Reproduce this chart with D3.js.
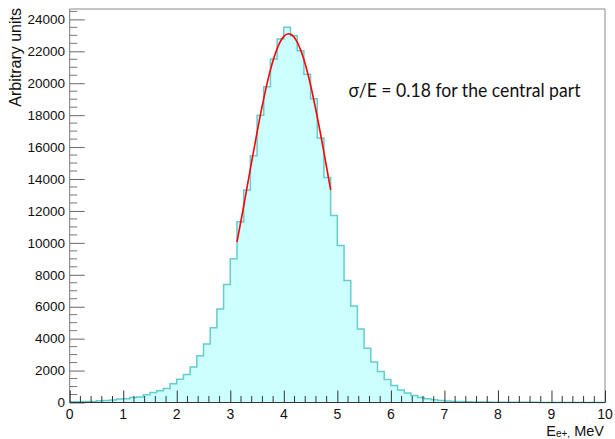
<!DOCTYPE html>
<html>
<head>
<meta charset="utf-8">
<script src="https://cdn.jsdelivr.net/npm/d3@7"></script>
<style>
  html, body { margin: 0; padding: 0; background: #ffffff; }
  svg { display: block; }
</style>
</head>
<body>
<svg id="chart" width="615" height="439"></svg>
<script>
// ---- data ----
const binEdges = [0, 10];          // histogram range (MeV)
const binWidth = 0.125;            // 80 bins
const binValues = [
  40, 50, 60, 70, 110, 130, 160, 220, 240, 320,
  350, 480, 620, 730, 880, 1170, 1460, 1760, 2220, 2930,
  3660, 4680, 5850, 7390, 9010, 11330, 13310, 15460, 17990, 19780,
  21520, 22770, 23500, 22980, 22040, 20560, 19030, 16570, 14100, 11710,
  9830, 7640, 6050, 4610, 3400, 2530, 1940, 1440, 1060, 790,
  590, 440, 310, 230, 170, 125, 90, 70, 55, 45,
  35, 30, 25, 20, 15, 12, 10, 10, 8, 8,
  6, 6, 5, 5, 4, 4, 3, 3, 2, 2
];
// Gaussian fit curve
const fitX = [3.125, 3.25, 3.375, 3.5, 3.625, 3.75, 3.875, 4.0, 4.09, 4.125, 4.25, 4.375, 4.5, 4.625, 4.75, 4.875];
const fitY = [10050, 12295, 14630, 16925, 19040, 20835, 22165, 22933, 23100, 23075, 22578, 21483, 19877, 17886, 15653, 13320];
const xTicks = [0, 1, 2, 3, 4, 5, 6, 7, 8, 9, 10];
const yTicks = [0, 2000, 4000, 6000, 8000, 10000, 12000, 14000, 16000, 18000, 20000, 22000, 24000];
const yMax = 24650;
const annotation = "σ/E = 0.18 for the central part";
const yTitle = "Arbitrary units";

// ---- layout ----
const svg = d3.select("#chart");
const L = 69.7, R = 605, T = 9, B = 402.5;
const x = d3.scaleLinear().domain(binEdges).range([L, R]);
const y = d3.scaleLinear().domain([0, yMax]).range([B, T]);

// histogram step outline
const pts = [[binEdges[0], 0]];
binValues.forEach((v, i) => {
  const x0 = binEdges[0] + i * binWidth, x1 = x0 + binWidth;
  pts.push([x0, v]); pts.push([x1, v]);
});
pts.push([binEdges[1], 0]);
const line = d3.line().x(d => x(d[0])).y(d => y(d[1]));

svg.append("path")
  .attr("d", line(pts) + "Z")
  .attr("fill", "#ccffff")
  .attr("stroke", "none");

svg.append("path")
  .attr("d", line(pts))
  .attr("fill", "none")
  .attr("stroke", "#66cccc")
  .attr("stroke-width", 1.5);

// fit curve
const fitLine = d3.line().x(d => x(d[0])).y(d => y(d[1])).curve(d3.curveMonotoneX);
svg.append("path")
  .attr("d", fitLine(fitX.map((v, i) => [v, fitY[i]])))
  .attr("fill", "none")
  .attr("stroke", "#ff0000")
  .attr("stroke-width", 1.6);

// frame (top & right)
svg.append("line").attr("x1", L).attr("x2", R).attr("y1", T).attr("y2", T)
  .attr("stroke", "#888").attr("stroke-width", 1);
svg.append("line").attr("x1", R).attr("x2", R).attr("y1", T).attr("y2", B)
  .attr("stroke", "#888").attr("stroke-width", 1);

// y axis
const yAxis = d3.axisRight(y)
  .tickValues(yTicks)
  .tickSize(15)
  .tickFormat("");
const ga = svg.append("g").attr("transform", `translate(${L},0)`).call(yAxis);
ga.select(".domain").attr("stroke", "#777").attr("d", `M0,${B}V${T}`);
ga.selectAll(".tick line").attr("stroke", "#666");
const yMinor = d3.range(500, yMax, 500).filter(v => v % 2000 !== 0);
svg.append("g").selectAll("line").data(yMinor).join("line")
  .attr("x1", L).attr("x2", L + 7.5)
  .attr("y1", d => y(d)).attr("y2", d => y(d))
  .attr("stroke", "#777");
svg.append("g").selectAll("text").data(yTicks).join("text")
  .attr("x", 65).attr("y", d => y(d))
  .attr("dy", "0.35em")
  .attr("text-anchor", "end")
  .attr("font-family", "Liberation Sans, Arial, sans-serif")
  .attr("font-size", 13.5)
  .attr("fill", "#111")
  .text(d => d);

// x axis
const xAxis = d3.axisTop(x).tickValues(xTicks).tickSize(12).tickFormat("");
const gx = svg.append("g").attr("transform", `translate(0,${B})`).call(xAxis);
gx.select(".domain").attr("stroke", "#333").attr("d", `M${L},0H${R}`);
gx.selectAll(".tick line").attr("stroke", "#333");
const xMinor = d3.range(0.2, 10, 0.2).filter(v => Math.abs(v - Math.round(v)) > 1e-6);
svg.append("g").selectAll("line").data(xMinor).join("line")
  .attr("x1", d => x(d)).attr("x2", d => x(d))
  .attr("y1", B).attr("y2", B - 6.5)
  .attr("stroke", "#333");
svg.append("g").selectAll("text").data(xTicks).join("text")
  .attr("x", d => x(d)).attr("y", 418.5)
  .attr("text-anchor", "middle")
  .attr("font-family", "Liberation Sans, Arial, sans-serif")
  .attr("font-size", 14)
  .attr("fill", "#111")
  .text(d => d);

// axis titles
svg.append("text")
  .attr("transform", "translate(20.5,8) rotate(-90)")
  .attr("text-anchor", "end")
  .attr("font-family", "Liberation Sans, Arial, sans-serif")
  .attr("font-size", 16)
  .attr("fill", "#111")
  .text(yTitle);

const xt = svg.append("text")
  .attr("x", 604).attr("y", 435.5)
  .attr("text-anchor", "end")
  .attr("font-family", "Liberation Sans, Arial, sans-serif")
  .attr("font-size", 14.5)
  .attr("fill", "#111");
xt.append("tspan").text("E");
xt.append("tspan").attr("font-size", 10).attr("dy", 1.5).text("e+,");
xt.append("tspan").attr("dy", -1.5).text(" MeV");

// annotation
svg.append("text")
  .attr("x", 348.5).attr("y", 96.5)
  .attr("font-family", "Lato, 'Open Sans', sans-serif")
  .attr("font-size", 18.5)
  .attr("fill", "#111")
  .attr("textLength", 232)
  .attr("lengthAdjust", "spacingAndGlyphs")
  .text(annotation);
</script>
</body>
</html>
